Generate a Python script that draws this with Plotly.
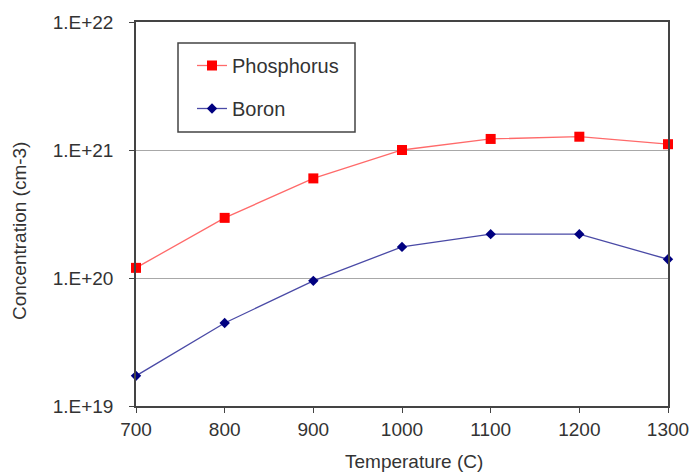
import plotly.graph_objects as go

# Temperature (C) on the x axis
temperature = [700, 800, 900, 1000, 1100, 1200, 1300]

# Solid solubility limits (cm-3)
phosphorus = [1.2e20, 2.95e20, 6.0e20, 1.0e21, 1.22e21, 1.27e21, 1.11e21]
boron = [1.72e19, 4.45e19, 9.5e19, 1.75e20, 2.2e20, 2.2e20, 1.4e20]

y_tick_vals = [1e19, 1e20, 1e21, 1e22]
y_tick_text = ["1.E+19", "1.E+20", "1.E+21", "1.E+22"]

FONT = "Liberation Sans, Arial, sans-serif"
TEXT = "#333333"
FS = 19

fig = go.Figure()
fig.add_trace(go.Scatter(
    x=temperature, y=phosphorus, name="Phosphorus", mode="lines+markers",
    line=dict(color="#ff6a6a", width=1.3),
    marker=dict(symbol="square", size=10, color="#ff0000"),
    legendgroup="p", cliponaxis=False,
))
fig.add_trace(go.Scatter(
    x=temperature, y=boron, name="Boron", mode="lines+markers",
    line=dict(color="#4a4aa6", width=1.3),
    marker=dict(symbol="diamond", size=8, color="#000080"),
    legendgroup="b", cliponaxis=False,
))

fig.update_layout(
    width=692, height=472,
    margin=dict(l=136, r=24, t=22, b=66, autoexpand=False),
    paper_bgcolor="white", plot_bgcolor="white",
    font=dict(family=FONT, size=FS, color=TEXT),
    showlegend=True,
    legend=dict(
        x=(192 - 136) / 532, y=(406 - 46) / 384,
        xanchor="left", yanchor="top",
        bgcolor="rgba(0,0,0,0)", borderwidth=0,
        tracegroupgap=14,
        font=dict(family=FONT, size=20, color=TEXT),
    ),
    xaxis=dict(
        range=[700, 1300], tickvals=temperature, automargin=False,
        showline=True, linecolor="#444444", linewidth=1.5, mirror=True,
        ticks="outside", ticklen=5, tickcolor="#444444",
        showgrid=False, zeroline=False,
        tickfont=dict(family=FONT, size=FS, color=TEXT),
    ),
    yaxis=dict(
        type="log", range=[19, 22], automargin=False,
        tickvals=y_tick_vals, ticktext=y_tick_text,
        showline=True, linecolor="#444444", linewidth=1.5, mirror=True,
        ticks="outside", ticklen=5, tickcolor="#444444",
        ticklabelstandoff=12,
        showgrid=True, gridcolor="#a8a8a8", gridwidth=1.2,
        zeroline=False,
        tickfont=dict(family=FONT, size=FS, color=TEXT),
    ),
    shapes=[dict(
        type="rect", xref="paper", yref="paper",
        x0=(178 - 136) / 532, x1=(355 - 136) / 532,
        y0=(406 - 132) / 384, y1=(406 - 43) / 384,
        line=dict(color="#444444", width=1.5), fillcolor="rgba(0,0,0,0)",
    )],
    annotations=[
        dict(text="Temperature (C)", xref="paper", yref="paper",
             x=(414 - 136) / 532, y=(406 - 461) / 384,
             xanchor="center", yanchor="middle", showarrow=False,
             font=dict(family=FONT, size=FS, color=TEXT)),
        dict(text="Concentration (cm-3)", xref="paper", yref="paper",
             x=(20 - 136) / 532, y=(406 - 231) / 384, textangle=-90,
             xanchor="center", yanchor="middle", showarrow=False,
             font=dict(family=FONT, size=FS, color=TEXT)),
    ],
)

fig.write_html("out.html")
